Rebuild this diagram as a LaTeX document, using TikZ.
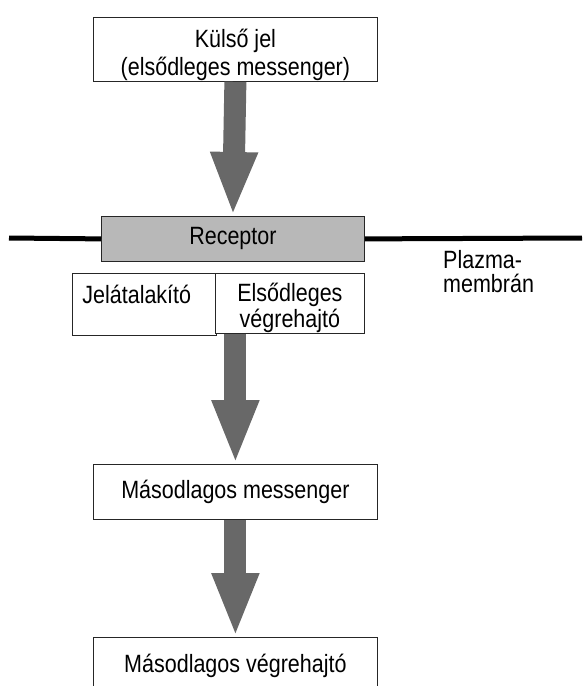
\documentclass[tikz,border=0pt]{standalone}
\usepackage{fontspec}
\setmainfont{Liberation Sans}[FakeStretch=0.86]
\usetikzlibrary{arrows.meta, positioning}
\definecolor{recgray}{RGB}{184, 184, 184}
\definecolor{arrowgray}{RGB}{104, 104, 104}

\begin{document}
\begin{tikzpicture}[
    x=1pt, y=-1pt,
    box/.style={rectangle, draw=black!85, line width=0.8pt, fill=white, inner sep=0pt, align=center, font=\fontsize{25}{26}\selectfont},
    receptor/.style={box, fill=recgray},
    fatarrow/.style={draw=arrowgray, line width=22pt, -{Triangle[width=43pt, length=64pt]}},
    membrane/.style={line width=5pt, draw=black},
    lbl/.style={font=\fontsize{25}{24}\selectfont, align=left, inner sep=0pt}
]
\useasboundingbox (0,0) rectangle (582,686);

% Signal and receptor
\node[box, anchor=north west, minimum width=284pt, minimum height=64pt] (ext) at (93,17) {\rule{0pt}{30pt}Külső jel\\[2pt](elsődleges messenger)};
\node[receptor, anchor=north west, minimum width=263pt, minimum height=45pt] (rec) at (101,216) {Receptor};

% Plasma membrane
\coordinate (mem_l) at (9,238);
\coordinate (mem_r) at (582,238);
\draw[membrane] (mem_l) -- (rec.west);
\draw[membrane] (rec.east) -- (mem_r);
\node[lbl, anchor=north west] (pm) at (443,250) {Plazma-\\membrán};

% Transducer and primary effector
\node[box, anchor=north west, text width=124pt, inner xsep=10pt, align=left, text height=30pt, text depth=32pt] (jel) at (72,273) {Jelátalakító};
\node[box, anchor=north west, minimum width=149pt, minimum height=60pt] (elso) at (215,273) {\rule{0pt}{28pt}Elsődleges\\végrehajtó};

% Second messenger and effector
\node[box, anchor=north west, minimum width=284pt, minimum height=55pt] (msg) at (93,464) {Másodlagos messenger};
\node[box, anchor=north west, minimum width=284pt, minimum height=56pt] (veg) at (93,637) {Másodlagos végrehajtó};

% Arrows
\draw[fatarrow] (ext.south) -- (rec.north);
\draw[fatarrow] (ext.south |- elso.south) -- (msg.north);
\draw[fatarrow] (msg.south) -- (veg.north);

\end{tikzpicture}
\end{document}
